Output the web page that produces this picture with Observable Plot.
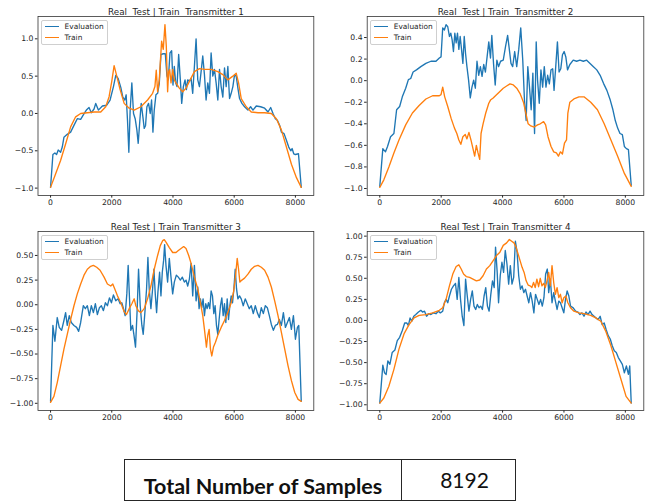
<!DOCTYPE html>
<html><head><meta charset="utf-8">
<script src="https://cdn.jsdelivr.net/npm/d3@7"></script>
<script src="https://cdn.jsdelivr.net/npm/@observablehq/plot@0.6"></script>
<style>
html,body{margin:0;padding:0;background:#fff;}
#root{position:relative;width:653px;height:502px;overflow:hidden;}
.panel{position:absolute;}
.legend{position:absolute;background:rgba(255,255,255,0.8);border:0.8px solid #cfcfcf;border-radius:2px;font:7.4px "DejaVu Sans";color:#262626;padding:2.6px 3px;box-sizing:border-box;line-height:7px}
.legend .row{display:flex;align-items:center;height:7px}
.legend .row + .row{margin-top:3.8px}
.legend .sw{width:14px;height:1.4px;margin-right:5.5px}
#table{position:absolute;left:124px;top:459px;width:392px;height:42px;border:1.5px solid #262626;box-sizing:border-box;display:flex;font-family:Lato,"Open Sans",sans-serif;color:#111}
#table .c1{width:277px;border-right:1.5px solid #262626;box-sizing:border-box;font-weight:bold;font-size:21.5px;text-align:center;padding-top:13px}
#table .c2{flex:1;text-align:center;font-size:21px;padding-top:7px;padding-left:12px}
</style></head>
<body><div id="root"></div>
<script>
const xTicks = [0, 2000, 4000, 6000, 8000];
const titles = ["Real\u00a0 Test | Train\u00a0 Transmitter 1", "Real\u00a0 Test | Train\u00a0 Transmitter 2", "Real Test | Train Transmitter 3", "Real Test | Train Transmitter 4"];
const seriesNames = ["Evaluation", "Train"];

const eval1 = [[0,-0.99],[77,-0.55],[142,-0.53],[197,-0.55],[251,-0.49],[328,-0.52],[383,-0.45],[437,-0.32],[546,-0.28],[656,-0.25],[765,-0.16],[874,-0.07],[984,-0.08],[1071,-0.02],[1180,0.05],[1257,0.08],[1333,0.01],[1421,0.06],[1476,0.135],[1563,0.045],[1694,0.10],[1836,0.11],[1945,0.18],[2055,0.36],[2131,0.51],[2208,0.47],[2295,0.35],[2361,0.22],[2426,0.18],[2470,0.25],[2514,-0.09],[2558,-0.52],[2601,0.045],[2656,0.41],[2711,0.0],[2765,-0.07],[2820,-0.22],[2864,-0.4],[2918,-0.09],[2962,0.135],[3017,-0.045],[3060,-0.2],[3104,-0.16],[3148,0.09],[3202,0.135],[3257,0.0],[3301,0.18],[3345,-0.25],[3388,0.045],[3443,0.25],[3498,0.27],[3552,0.4],[3607,0.79],[3683,0.8],[3749,0.8],[3804,0.5],[3847,0.45],[3902,0.81],[3957,0.84],[4000,0.38],[4044,0.63],[4088,0.41],[4131,0.36],[4186,0.79],[4241,0.45],[4285,0.135],[4339,0.36],[4394,0.45],[4438,0.32],[4481,0.45],[4536,0.43],[4591,0.47],[4645,0.27],[4700,0.63],[4755,1.0],[4810,0.45],[4864,0.36],[4919,0.56],[4973,0.77],[5028,0.52],[5082,0.18],[5137,0.41],[5192,0.27],[5246,0.81],[5301,0.5],[5356,0.59],[5410,0.41],[5465,0.18],[5520,0.59],[5574,0.36],[5629,0.22],[5684,0.61],[5738,0.36],[5793,0.63],[5848,0.2],[5902,0.27],[5957,0.36],[6012,0.52],[6066,0.5],[6121,0.34],[6175,0.2],[6252,0.135],[6339,0.09],[6449,0.045],[6536,0.09],[6613,0.045],[6722,0.1],[6864,0.09],[6995,0.07],[7105,0.02],[7192,0.08],[7268,0.0],[7345,-0.07],[7411,-0.09],[7487,-0.16],[7542,-0.25],[7629,-0.27],[7706,-0.36],[7782,-0.45],[7848,-0.5],[7892,-0.47],[7946,-0.54],[8001,-0.55],[8100,-0.54],[8191,-0.99]];
const train1 = [[0,-0.99],[164,-0.81],[328,-0.63],[492,-0.41],[656,-0.18],[820,-0.045],[984,0.0],[1202,0.01],[1421,0.02],[1640,0.02],[1803,0.09],[1913,0.225],[2000,0.43],[2077,0.64],[2164,0.5],[2273,0.32],[2405,0.135],[2569,0.07],[2733,0.045],[2951,0.09],[3170,0.18],[3334,0.27],[3410,0.36],[3454,0.58],[3498,0.29],[3552,0.45],[3629,0.97],[3683,0.86],[3738,1.19],[3782,0.9],[3825,0.29],[3858,0.56],[3891,0.59],[3935,0.41],[3990,0.59],[4044,0.45],[4099,0.41],[4208,0.34],[4317,0.29],[4427,0.34],[4536,0.43],[4700,0.56],[4864,0.6],[5028,0.59],[5246,0.59],[5465,0.56],[5629,0.52],[5793,0.45],[5957,0.5],[6066,0.54],[6143,0.41],[6230,0.2],[6394,0.09],[6558,0.02],[6777,0.01],[6995,0.01],[7214,0.0],[7378,-0.07],[7542,-0.22],[7706,-0.45],[7870,-0.68],[8034,-0.86],[8191,-0.99]];

const eval2 = [[0,-0.98],[99,-0.63],[186,-0.66],[252,-0.61],[351,-0.52],[460,-0.49],[548,-0.27],[647,-0.24],[734,-0.15],[844,-0.07],[932,0.01],[1008,0.02],[1085,0.08],[1195,0.1],[1337,0.13],[1502,0.16],[1666,0.18],[1830,0.18],[1940,0.21],[1995,0.22],[2050,0.49],[2104,0.47],[2159,0.52],[2214,0.5],[2269,0.41],[2313,0.44],[2356,0.38],[2400,0.27],[2444,0.44],[2488,0.35],[2532,0.44],[2576,0.29],[2619,0.41],[2663,0.29],[2707,0.16],[2751,0.41],[2795,0.25],[2839,0.13],[2893,0.005],[2948,-0.16],[3003,-0.06],[3058,0.005],[3113,-0.07],[3167,0.18],[3222,0.05],[3277,0.13],[3332,0.04],[3386,0.15],[3441,0.08],[3496,0.22],[3551,0.36],[3606,0.21],[3650,0.42],[3705,0.16],[3760,-0.04],[3814,0.19],[3869,0.13],[3935,0.18],[4022,0.19],[4099,0.32],[4165,0.42],[4220,0.29],[4274,0.16],[4329,0.13],[4395,0.27],[4461,0.13],[4527,0.29],[4592,0.49],[4658,0.19],[4713,-0.18],[4768,-0.37],[4822,0.13],[4877,-0.06],[4932,-0.27],[4987,0.07],[5042,-0.49],[5096,0.36],[5140,0.005],[5195,-0.21],[5250,0.1],[5305,-0.06],[5359,0.13],[5414,-0.06],[5469,0.05],[5524,-0.03],[5578,0.1],[5633,0.11],[5677,-0.09],[5732,0.13],[5787,0.36],[5841,0.08],[5896,0.11],[5951,0.24],[6006,0.27],[6061,0.22],[6116,0.1],[6192,0.15],[6302,0.19],[6411,0.18],[6521,0.19],[6631,0.18],[6740,0.19],[6850,0.16],[6960,0.13],[7069,0.1],[7179,0.05],[7288,-0.025],[7398,-0.09],[7508,-0.18],[7595,-0.27],[7672,-0.37],[7749,-0.44],[7825,-0.49],[7902,-0.5],[7968,-0.61],[8034,-0.63],[8100,-0.64],[8191,-0.97]];
const train2 = [[0,-0.99],[132,-0.92],[296,-0.8],[460,-0.67],[625,-0.55],[844,-0.41],[1063,-0.3],[1282,-0.23],[1502,-0.17],[1721,-0.14],[1940,-0.14],[1995,-0.13],[2050,-0.06],[2115,-0.15],[2214,-0.24],[2324,-0.35],[2433,-0.44],[2510,-0.49],[2576,-0.55],[2641,-0.59],[2707,-0.52],[2784,-0.5],[2839,-0.54],[2904,-0.48],[2970,-0.55],[3036,-0.63],[3091,-0.7],[3146,-0.6],[3200,-0.67],[3255,-0.73],[3299,-0.49],[3365,-0.4],[3452,-0.3],[3551,-0.21],[3606,-0.18],[3694,-0.16],[3803,-0.13],[3913,-0.1],[4022,-0.07],[4132,-0.05],[4241,-0.03],[4351,-0.04],[4461,-0.07],[4570,-0.12],[4680,-0.2],[4757,-0.3],[4833,-0.4],[4921,-0.42],[5031,-0.43],[5140,-0.41],[5228,-0.4],[5337,-0.38],[5403,-0.41],[5480,-0.52],[5579,-0.61],[5666,-0.66],[5754,-0.67],[5820,-0.7],[5885,-0.66],[5951,-0.68],[6017,-0.58],[6083,-0.55],[6127,-0.3],[6192,-0.2],[6324,-0.17],[6488,-0.15],[6653,-0.15],[6872,-0.2],[7091,-0.27],[7310,-0.4],[7530,-0.55],[7749,-0.7],[7968,-0.86],[8191,-0.98]];

const eval3 = [[0,-0.98],[77,-0.21],[142,-0.37],[219,-0.13],[284,-0.23],[361,-0.26],[437,-0.16],[492,-0.08],[546,-0.21],[612,-0.11],[678,-0.18],[765,-0.21],[852,-0.23],[918,-0.27],[984,-0.18],[1071,-0.01],[1137,-0.04],[1202,-0.01],[1268,-0.11],[1333,-0.01],[1399,-0.08],[1465,0.01],[1530,-0.1],[1596,-0.03],[1661,-0.01],[1727,-0.06],[1793,0.02],[1858,-0.01],[1924,0.07],[1989,0.02],[2055,0.1],[2131,0.04],[2208,0.06],[2273,0.01],[2328,0.02],[2383,-0.04],[2437,-0.11],[2492,0.11],[2536,0.4],[2580,0.06],[2623,-0.26],[2678,-0.21],[2722,-0.3],[2776,-0.43],[2831,-0.04],[2875,0.36],[2929,-0.01],[2984,-0.21],[3028,-0.3],[3082,-0.08],[3137,0.16],[3181,0.48],[3224,0.16],[3279,-0.04],[3334,0.16],[3377,0.36],[3421,0.11],[3465,-0.08],[3508,0.13],[3563,0.33],[3607,0.09],[3651,0.33],[3694,0.45],[3727,0.61],[3771,0.4],[3825,0.23],[3880,0.47],[3935,0.28],[3990,0.11],[4044,0.23],[4110,0.3],[4175,0.28],[4241,0.25],[4306,0.28],[4372,0.23],[4427,0.25],[4481,0.19],[4536,0.26],[4591,0.42],[4645,0.09],[4700,0.4],[4755,0.04],[4810,0.18],[4853,-0.04],[4897,0.06],[4941,-0.03],[4984,0.06],[5028,-0.11],[5071,0.01],[5115,-0.04],[5159,0.02],[5202,-0.04],[5246,0.14],[5290,0.09],[5334,-0.09],[5377,-0.01],[5421,-0.21],[5465,-0.3],[5508,-0.15],[5552,-0.01],[5596,0.07],[5640,-0.11],[5683,0.01],[5727,-0.18],[5771,0.06],[5815,-0.15],[5858,-0.01],[5902,0.09],[5946,0.02],[5990,0.16],[6033,0.36],[6077,0.16],[6121,0.06],[6175,0.09],[6230,0.06],[6296,-0.01],[6361,0.06],[6427,0.01],[6493,-0.04],[6558,-0.01],[6624,-0.09],[6690,-0.01],[6755,-0.08],[6821,-0.13],[6886,-0.03],[6952,-0.09],[7017,-0.01],[7083,-0.03],[7148,-0.11],[7214,-0.2],[7280,-0.26],[7345,-0.21],[7411,-0.2],[7476,-0.15],[7542,-0.21],[7607,-0.08],[7673,-0.23],[7738,-0.18],[7804,-0.13],[7869,-0.25],[7935,-0.11],[8001,-0.35],[8066,-0.23],[8110,-0.21],[8191,-0.98]];
const train3 = [[0,-0.99],[110,-0.93],[219,-0.79],[328,-0.62],[437,-0.45],[546,-0.3],[656,-0.15],[765,-0.01],[874,0.11],[984,0.21],[1093,0.3],[1202,0.36],[1312,0.39],[1399,0.40],[1508,0.38],[1618,0.35],[1749,0.28],[1858,0.21],[1967,0.19],[2033,0.21],[2099,0.16],[2186,0.09],[2295,0.02],[2405,-0.07],[2481,-0.1],[2569,-0.04],[2656,0.01],[2733,0.06],[2787,-0.01],[2864,-0.06],[2951,-0.08],[3060,-0.04],[3170,0.06],[3279,0.19],[3388,0.36],[3498,0.5],[3585,0.6],[3662,0.65],[3716,0.66],[3782,0.63],[3880,0.58],[3990,0.53],[4099,0.53],[4175,0.55],[4263,0.57],[4350,0.59],[4427,0.57],[4514,0.5],[4591,0.42],[4700,0.28],[4810,0.16],[4897,0.02],[4973,-0.11],[5028,-0.25],[5093,-0.43],[5137,-0.31],[5181,-0.25],[5224,-0.45],[5268,-0.52],[5323,-0.43],[5388,-0.38],[5465,-0.31],[5574,-0.23],[5683,-0.16],[5793,-0.08],[5902,0.02],[5979,0.13],[6033,0.26],[6099,0.47],[6143,0.36],[6186,0.23],[6252,0.25],[6339,0.27],[6449,0.31],[6558,0.36],[6668,0.39],[6777,0.4],[6886,0.38],[6995,0.35],[7105,0.28],[7214,0.18],[7323,0.04],[7432,-0.11],[7542,-0.28],[7651,-0.45],[7760,-0.62],[7870,-0.77],[7979,-0.89],[8088,-0.96],[8191,-0.98]];

const eval4 = [[0,-0.98],[99,-0.53],[153,-0.62],[208,-0.64],[263,-0.48],[329,-0.52],[405,-0.38],[493,-0.35],[570,-0.24],[647,-0.2],[734,-0.12],[811,-0.03],[877,-0.03],[932,-0.06],[987,0.03],[1041,-0.01],[1107,0.05],[1173,0.07],[1260,0.1],[1337,0.12],[1392,0.1],[1458,0.11],[1524,0.05],[1589,0.08],[1666,0.07],[1743,0.09],[1830,0.08],[1907,0.11],[1973,0.09],[2050,0.11],[2104,0.21],[2159,0.25],[2214,0.21],[2269,0.29],[2334,0.37],[2400,0.41],[2466,0.44],[2521,0.25],[2576,0.51],[2630,0.25],[2685,0.05],[2740,-0.06],[2795,0.49],[2850,0.29],[2904,0.11],[2959,0.25],[3014,0.35],[3069,0.17],[3124,0.13],[3178,0.19],[3233,0.15],[3288,0.17],[3343,0.13],[3398,0.29],[3452,0.39],[3507,0.17],[3562,0.11],[3617,0.31],[3672,0.47],[3727,0.39],[3771,0.87],[3825,0.57],[3869,0.21],[3924,0.53],[3979,0.69],[4033,0.57],[4088,0.83],[4143,0.67],[4198,0.43],[4253,0.65],[4307,0.43],[4362,0.51],[4417,0.94],[4472,0.81],[4526,0.53],[4581,0.37],[4636,0.41],[4691,0.33],[4746,0.37],[4800,0.29],[4855,0.21],[4910,0.33],[4965,0.23],[5020,0.09],[5074,0.31],[5129,0.25],[5184,0.19],[5239,0.25],[5294,0.17],[5348,0.27],[5403,0.55],[5458,0.61],[5502,0.33],[5557,0.49],[5611,0.21],[5666,0.33],[5721,0.23],[5776,0.13],[5831,0.23],[5885,0.21],[5940,0.15],[5995,0.09],[6050,0.25],[6104,0.35],[6159,0.29],[6214,0.17],[6302,0.15],[6378,0.11],[6455,0.1],[6521,0.07],[6587,0.09],[6653,0.05],[6718,0.1],[6784,0.07],[6850,0.11],[6916,0.07],[6981,0.05],[7047,0.03],[7113,0.01],[7179,0.05],[7245,-0.05],[7310,-0.03],[7376,-0.11],[7442,-0.18],[7508,-0.22],[7573,-0.3],[7639,-0.36],[7705,-0.38],[7771,-0.44],[7836,-0.48],[7902,-0.52],[7968,-0.62],[8034,-0.54],[8100,-0.64],[8143,-0.54],[8191,-0.98]];
const train4 = [[0,-0.98],[132,-0.92],[296,-0.78],[460,-0.58],[625,-0.34],[789,-0.16],[953,-0.05],[1118,0.03],[1282,0.06],[1502,0.07],[1721,0.09],[1940,0.12],[2050,0.15],[2159,0.25],[2269,0.41],[2378,0.55],[2488,0.64],[2576,0.66],[2652,0.61],[2729,0.55],[2817,0.52],[2926,0.51],[3036,0.49],[3146,0.47],[3255,0.48],[3365,0.53],[3474,0.61],[3584,0.65],[3694,0.71],[3803,0.77],[3913,0.81],[4022,0.89],[4132,0.92],[4220,0.96],[4296,0.94],[4373,0.92],[4439,0.87],[4505,0.79],[4570,0.71],[4636,0.63],[4702,0.57],[4768,0.47],[4833,0.42],[4899,0.41],[4954,0.39],[5009,0.45],[5063,0.39],[5118,0.49],[5173,0.4],[5228,0.5],[5283,0.41],[5337,0.44],[5392,0.39],[5447,0.47],[5502,0.57],[5557,0.41],[5611,0.65],[5666,0.45],[5721,0.31],[5776,0.39],[5831,0.27],[5885,0.31],[5940,0.21],[5995,0.27],[6061,0.29],[6127,0.21],[6214,0.15],[6324,0.11],[6488,0.09],[6653,0.08],[6872,0.06],[7036,0.03],[7201,-0.01],[7365,-0.13],[7530,-0.3],[7694,-0.5],[7859,-0.7],[8023,-0.9],[8191,-0.98]];

const yTicks1 = [-1.0, -0.5, 0.0, 0.5, 1.0];
const yTicks2 = [-1.0, -0.8, -0.6, -0.4, -0.2, 0.0, 0.2, 0.4];
const yTicks3 = [-1.0, -0.75, -0.5, -0.25, 0.0, 0.25, 0.5];
const yTicks4 = [-1.0, -0.75, -0.5, -0.25, 0.0, 0.25, 0.5, 0.75, 1.0];

const tableLabel = "Total Number of Samples";
const tableValue = "8192";

const panels = [
  {left: 0, top: 0, w: 326, ml: 37.5, mr: 12.7, yDomain: [-1.099, 1.299], yTicks: yTicks1, fmt: ".1f", title: titles[0], ev: eval1, tr: train1},
  {left: 326, top: 0, w: 327, ml: 40.7, mr: 9.7, yDomain: [-1.065, 0.595], yTicks: yTicks2, fmt: ".1f", title: titles[1], ev: eval2, tr: train2},
  {left: 0, top: 215, w: 326, ml: 37.5, mr: 12.7, yDomain: [-1.073, 0.743], yTicks: yTicks3, fmt: ".2f", title: titles[2], ev: eval3, tr: train3},
  {left: 326, top: 215, w: 327, ml: 40.7, mr: 9.7, yDomain: [-1.068, 1.055], yTicks: yTicks4, fmt: ".2f", title: titles[3], ev: eval4, tr: train4}
];
const colors = ["#1f77b4", "#ff7f0e"];
const root = document.getElementById("root");

for (const p of panels) {
  const svg = Plot.plot({
    width: p.w, height: 215,
    marginLeft: p.ml, marginRight: p.mr, marginTop: 16, marginBottom: 20,
    style: {fontFamily: "DejaVu Sans", fontSize: "7.7px", color: "#262626", background: "transparent", overflow: "visible"},
    x: {domain: [-410, 8601], ticks: xTicks, tickFormat: d3.format("d"), tickSize: 2.6, tickPadding: 1.5, label: null},
    y: {domain: p.yDomain, ticks: p.yTicks, tickFormat: d3.format(p.fmt), tickSize: 2.6, tickPadding: 2, label: null},
    marks: [
      Plot.line(p.ev, {x: d => d[0], y: d => d[1], stroke: colors[0], strokeWidth: 1.35}),
      Plot.line(p.tr, {x: d => d[0], y: d => d[1], stroke: colors[1], strokeWidth: 1.35}),
      Plot.frame({stroke: "#333", strokeWidth: 0.8}),
      Plot.text([p.title], {frameAnchor: "top", dy: -2, lineAnchor: "bottom", text: d => d, fontSize: 8.8, fill: "#262626"})
    ]
  });
  const div = document.createElement("div");
  div.className = "panel";
  div.style.left = p.left + "px";
  div.style.top = p.top + "px";
  div.appendChild(svg);
  root.appendChild(div);

  const lg = document.createElement("div");
  lg.className = "legend";
  lg.style.left = (p.left + p.ml + 3.6) + "px";
  lg.style.top = (p.top + 16 + 3.6) + "px";
  seriesNames.forEach((name, i) => {
    const row = document.createElement("div");
    row.className = "row";
    const sw = document.createElement("span");
    sw.className = "sw";
    sw.style.background = colors[i];
    const tx = document.createElement("span");
    tx.textContent = name;
    row.appendChild(sw); row.appendChild(tx);
    lg.appendChild(row);
  });
  root.appendChild(lg);
}

const table = document.createElement("div");
table.id = "table";
const c1 = document.createElement("div"); c1.className = "c1"; c1.textContent = tableLabel;
const c2 = document.createElement("div"); c2.className = "c2"; c2.textContent = tableValue;
table.appendChild(c1); table.appendChild(c2);
root.appendChild(table);
</script>
</body></html>
